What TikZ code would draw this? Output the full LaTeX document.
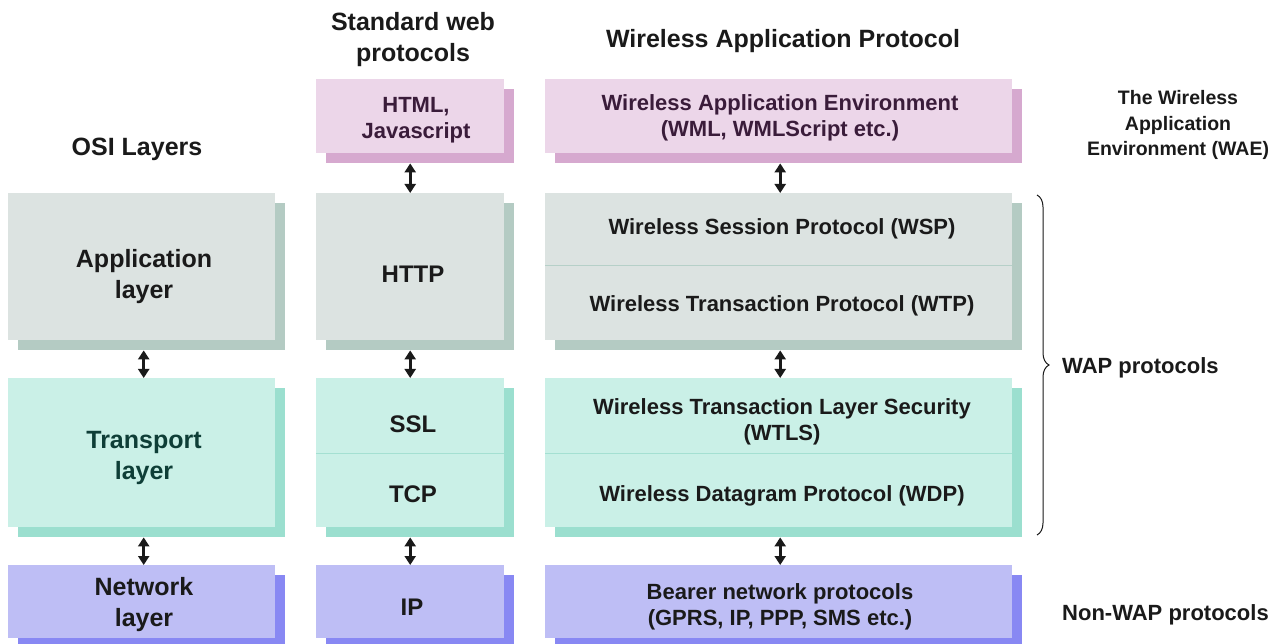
\documentclass[tikz,border=0pt]{standalone}
\usepackage{fontspec}
\setmainfont{Liberation Sans}
\usetikzlibrary{shadows,arrows.meta,decorations.pathreplacing}

\definecolor{pinkF}{HTML}{ECD6E9}
\definecolor{pinkS}{HTML}{D6A9CF}
\definecolor{greyF}{HTML}{DCE3E1}
\definecolor{greyS}{HTML}{B4CBC3}
\definecolor{tealF}{HTML}{CAF0E7}
\definecolor{tealS}{HTML}{9BDFCF}
\definecolor{blueF}{HTML}{BEBEF5}
\definecolor{blueS}{HTML}{8888F3}
\definecolor{inkC}{HTML}{1A1A1A}
\definecolor{plumC}{HTML}{3A1C3A}
\definecolor{deepteal}{HTML}{0E3E37}
\definecolor{greyDiv}{HTML}{B6D0C8}
\definecolor{tealDiv}{HTML}{A4E0D2}

\tikzset{
  box/.style={anchor=north west, inner sep=0pt, draw=none},
  pinkbox/.style={box, fill=pinkF, general shadow={fill=pinkS, shadow xshift=10pt, shadow yshift=-10pt}},
  greybox/.style={box, fill=greyF, general shadow={fill=greyS, shadow xshift=10pt, shadow yshift=-10pt}},
  tealbox/.style={box, fill=tealF, general shadow={fill=tealS, shadow xshift=10pt, shadow yshift=-10pt}},
  bluebox/.style={box, fill=blueF, general shadow={fill=blueS, shadow xshift=10pt, shadow yshift=-10pt}},
  big/.style={font=\bfseries\fontsize{25}{31}\selectfont, text=inkC, align=center, inner sep=0pt},
  mid/.style={font=\bfseries\fontsize{24}{30}\selectfont, text=inkC, align=center, inner sep=0pt},
  small/.style={font=\bfseries\fontsize{22}{26}\selectfont, text=inkC, align=center, inner sep=0pt},
  side/.style={font=\bfseries\fontsize{19.5}{25.5}\selectfont, text=inkC, align=center, inner sep=0pt},
  biarrow/.style={line width=3.4pt, inkC, {Triangle[width=11pt,length=9pt]}-{Triangle[width=11pt,length=9pt]}},
  divider/.style={line width=1pt},
}

\begin{document}
\begin{tikzpicture}[x=1pt, y=-1pt]
\useasboundingbox (0,0) rectangle (1283,644);
\clip (0,0) rectangle (1283,644);
\fill[white] (0,0) rectangle (1283,644);

% column headings
\node[big] (hstd) at (413,40) {Standard web\\protocols};
\node[big] (hwap) at (783,41) {Wireless Application Protocol};
\node[big] (hosi) at (137,149) {OSI Layers};

% top row: application environment
\node[pinkbox, minimum width=188pt, minimum height=74pt] (html) at (316,79) {};
\node[pinkbox, minimum width=467pt, minimum height=74pt] (wae) at (545,79) {};
\node[small, text=plumC] (htmlt) at (416,120) {HTML,\\Javascript};
\node[small, text=plumC] (waet) at (780,118) {Wireless Application Environment\\(WML, WMLScript etc.)};

% application row
\node[greybox, minimum width=267pt, minimum height=147pt] (app) at (8,193) {};
\node[greybox, minimum width=188pt, minimum height=147pt] (http) at (316,193) {};
\node[greybox, minimum width=467pt, minimum height=147pt] (wsp) at (545,193) {};
\draw[divider, greyDiv] (wsp.west |- 0,266) -- (wsp.east |- 0,266);
\node[big] (appt) at (144,277) {Application\\layer};
\node[mid] (httpt) at (413,274) {HTTP};
\node[small] (wspt) at (782,229) {Wireless Session Protocol (WSP)};
\node[small] (wtpt) at (782,306) {Wireless Transaction Protocol (WTP)};

% transport row
\node[tealbox, minimum width=267pt, minimum height=149pt] (trans) at (8,378) {};
\node[tealbox, minimum width=188pt, minimum height=149pt] (ssl) at (316,378) {};
\node[tealbox, minimum width=467pt, minimum height=149pt] (wtls) at (545,378) {};
\draw[divider, tealDiv] (ssl.west |- 0,453) -- (ssl.east |- 0,453);
\draw[divider, tealDiv] (wtls.west |- 0,453) -- (wtls.east |- 0,453);
\node[big, text=deepteal] (transt) at (144,458) {Transport\\layer};
\node[mid] (sslt) at (413,424) {SSL};
\node[mid] (tcpt) at (413,494) {TCP};
\node[small] (wtlst) at (782,422) {Wireless Transaction Layer Security\\(WTLS)};
\node[small] (wdpt) at (782,496) {Wireless Datagram Protocol (WDP)};

% network row
\node[bluebox, minimum width=267pt, minimum height=73pt] (net) at (8,565) {};
\node[bluebox, minimum width=188pt, minimum height=73pt] (ip) at (316,565) {};
\node[bluebox, minimum width=467pt, minimum height=73pt] (bearer) at (545,565) {};
\node[big] (nett) at (144,605) {Network\\layer};
\node[mid] (ipt) at (412,607) {IP};
\node[small] (bearert) at (780,607) {Bearer network protocols\\(GPRS, IP, PPP, SMS etc.)};

% connectors between layers (start below the shadows)
\draw[biarrow] ([xshift=2pt,yshift=-10pt]app.south) -- ([xshift=2pt]trans.north);
\draw[biarrow] ([xshift=2pt,yshift=-10pt]trans.south) -- ([xshift=2pt]net.north);
\draw[biarrow] ([yshift=-10pt]html.south) -- (http.north);
\draw[biarrow] ([yshift=-10pt]http.south) -- (ssl.north);
\draw[biarrow] ([yshift=-10pt]ssl.south) -- (ip.north);
\draw[biarrow] ([xshift=1.5pt,yshift=-10pt]wae.south) -- ([xshift=1.5pt]wsp.north);
\draw[biarrow] ([xshift=1.5pt,yshift=-10pt]wsp.south) -- ([xshift=1.5pt]wtls.north);
\draw[biarrow] ([xshift=1.5pt,yshift=-10pt]wtls.south) -- ([xshift=1.5pt]bearer.north);

% right-hand annotations
\node[side] (waelabel) at (1178,125) {The Wireless\\Application\\Environment (WAE)};
\coordinate (brtop) at (1037,195);
\coordinate (brbot) at (1037,535);
\draw[line width=1pt, inkC, decorate, decoration={brace, amplitude=12pt}] (brtop) -- (brbot);
\node[small, anchor=west] (wapp) at (1062,368) {WAP protocols};
\node[small, anchor=west] (nonwap) at (1062,615) {Non-WAP protocols};
\end{tikzpicture}
\end{document}
